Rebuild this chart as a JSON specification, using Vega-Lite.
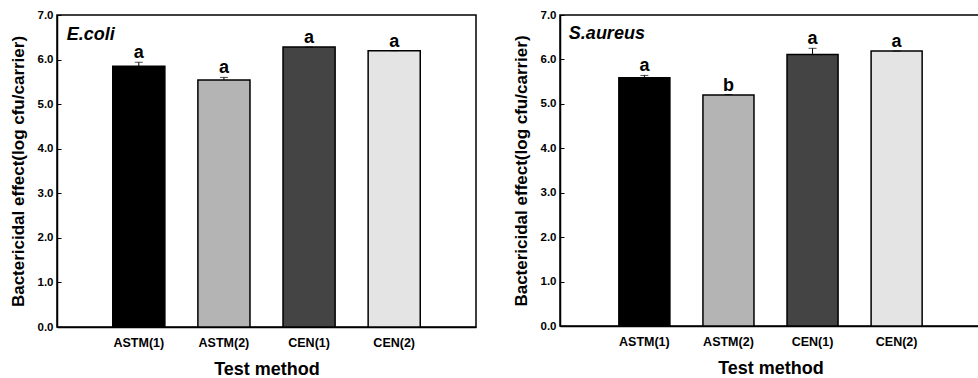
{
  "$schema": "https://vega.github.io/schema/vega-lite/v6.json",
  "padding": {"left": 8, "top": 8, "right": 0, "bottom": 0},
  "background": "white",
  "spacing": 34,
  "datasets": {
    "ecoli": [
      {"method": "ASTM(1)", "value": 5.85, "upper": 5.94, "letter": "a"},
      {"method": "ASTM(2)", "value": 5.54, "upper": 5.60, "letter": "a"},
      {"method": "CEN(1)", "value": 6.28, "upper": 6.28, "letter": "a"},
      {"method": "CEN(2)", "value": 6.20, "upper": 6.20, "letter": "a"}
    ],
    "saureus": [
      {"method": "ASTM(1)", "value": 5.59, "upper": 5.64, "letter": "a"},
      {"method": "ASTM(2)", "value": 5.20, "upper": 5.21, "letter": "b"},
      {"method": "CEN(1)", "value": 6.11, "upper": 6.25, "letter": "a"},
      {"method": "CEN(2)", "value": 6.19, "upper": 6.19, "letter": "a"}
    ],
    "labels": [
      {"panel": "ecoli", "name": "E.coli", "anchor": "ASTM(1)", "y": 6.44},
      {"panel": "saureus", "name": "S.aureus", "anchor": "ASTM(1)", "y": 6.45}
    ]
  },
  "config": {
    "font": "Liberation Sans",
    "view": {"stroke": "black", "strokeWidth": 1.5},
    "axis": {
      "grid": false,
      "domainColor": "black",
      "domainWidth": 1.5,
      "tickColor": "black",
      "labelColor": "black",
      "titleColor": "black",
      "labelFont": "Liberation Sans",
      "titleFont": "Liberation Sans",
      "labelFontWeight": "bold",
      "titleFontWeight": "bold"
    }
  },
  "hconcat": [
    {
      "width": 419,
      "height": 312,
      "encoding": {
        "x": {
          "field": "method", "type": "nominal", "sort": null,
          "scale": {"domain": ["ASTM(1)", "ASTM(2)", "CEN(1)", "CEN(2)"], "paddingInner": 0.388, "paddingOuter": 0.655},
          "axis": {"ticks": false, "labelAngle": 0, "labelFontSize": 12.5, "labelPadding": 9, "title": "Test method", "titleFontSize": 18, "titlePadding": 12}
        }
      },
      "layer": [
        {
          "data": {"name": "ecoli"},
          "mark": {"type": "bar", "stroke": "black", "strokeWidth": 1.5},
          "encoding": {
            "y": {"field": "value", "type": "quantitative", "scale": {"domain": [0, 7]},
              "axis": {"values": [0, 1, 2, 3, 4, 5, 6, 7], "format": ".1f", "tickSize": -4, "labelPadding": 8, "labelFontSize": 11.5, "title": "Bactericidal effect(log cfu/carrier)", "titleFontSize": 17, "titlePadding": 10}},
            "color": {"field": "method", "type": "nominal", "sort": null, "legend": null,
              "scale": {"domain": ["ASTM(1)", "ASTM(2)", "CEN(1)", "CEN(2)"], "range": ["#000000", "#b4b4b4", "#444444", "#e4e4e4"]}}
          }
        },
        {
          "data": {"name": "ecoli"},
          "mark": {"type": "rule", "strokeWidth": 1, "color": "black"},
          "encoding": {"y": {"field": "value", "type": "quantitative"}, "y2": {"field": "upper"}}
        },
        {
          "data": {"name": "ecoli"},
          "mark": {"type": "tick", "thickness": 1, "size": 8, "orient": "horizontal", "color": "black"},
          "encoding": {"y": {"field": "upper", "type": "quantitative"}}
        },
        {
          "data": {"name": "ecoli"},
          "mark": {"type": "text", "dy": -4, "baseline": "alphabetic", "fontSize": 18, "fontWeight": "bold", "color": "black"},
          "encoding": {"y": {"field": "upper", "type": "quantitative"}, "text": {"field": "letter"}}
        },
        {
          "data": {"name": "labels"},
          "transform": [{"filter": "datum.panel === 'ecoli'"}],
          "mark": {"type": "text", "align": "left", "baseline": "alphabetic", "dx": -46, "fontSize": 18, "fontStyle": "italic", "fontWeight": "bold", "color": "black"},
          "encoding": {
            "x": {"field": "anchor", "type": "nominal", "bandPosition": 0},
            "y": {"field": "y", "type": "quantitative"},
            "text": {"field": "name"}
          }
        }
      ]
    },
    {
      "width": 421,
      "height": 311,
      "encoding": {
        "x": {
          "field": "method", "type": "nominal", "sort": null,
          "scale": {"domain": ["ASTM(1)", "ASTM(2)", "CEN(1)", "CEN(2)"], "paddingInner": 0.393, "paddingOuter": 0.70},
          "axis": {"ticks": false, "labelAngle": 0, "labelFontSize": 12.5, "labelPadding": 9, "title": "Test method", "titleFontSize": 18, "titlePadding": 12}
        }
      },
      "layer": [
        {
          "data": {"name": "saureus"},
          "mark": {"type": "bar", "stroke": "black", "strokeWidth": 1.5},
          "encoding": {
            "y": {"field": "value", "type": "quantitative", "scale": {"domain": [0, 7]},
              "axis": {"values": [0, 1, 2, 3, 4, 5, 6, 7], "format": ".1f", "tickSize": -4, "labelPadding": 8, "labelFontSize": 11.5, "title": "Bactericidal effect(log cfu/carrier)", "titleFontSize": 17, "titlePadding": 10}},
            "color": {"field": "method", "type": "nominal", "sort": null, "legend": null,
              "scale": {"domain": ["ASTM(1)", "ASTM(2)", "CEN(1)", "CEN(2)"], "range": ["#000000", "#b4b4b4", "#444444", "#e4e4e4"]}}
          }
        },
        {
          "data": {"name": "saureus"},
          "mark": {"type": "rule", "strokeWidth": 1, "color": "black"},
          "encoding": {"y": {"field": "value", "type": "quantitative"}, "y2": {"field": "upper"}}
        },
        {
          "data": {"name": "saureus"},
          "mark": {"type": "tick", "thickness": 1, "size": 8, "orient": "horizontal", "color": "black"},
          "encoding": {"y": {"field": "upper", "type": "quantitative"}}
        },
        {
          "data": {"name": "saureus"},
          "mark": {"type": "text", "dy": -4, "baseline": "alphabetic", "fontSize": 18, "fontWeight": "bold", "color": "black"},
          "encoding": {"y": {"field": "upper", "type": "quantitative"}, "text": {"field": "letter"}}
        },
        {
          "data": {"name": "labels"},
          "transform": [{"filter": "datum.panel === 'saureus'"}],
          "mark": {"type": "text", "align": "left", "baseline": "alphabetic", "dx": -50, "fontSize": 18, "fontStyle": "italic", "fontWeight": "bold", "color": "black"},
          "encoding": {
            "x": {"field": "anchor", "type": "nominal", "bandPosition": 0},
            "y": {"field": "y", "type": "quantitative"},
            "text": {"field": "name"}
          }
        }
      ]
    }
  ],
  "resolve": {"scale": {"color": "independent", "x": "independent", "y": "independent"}}
}
